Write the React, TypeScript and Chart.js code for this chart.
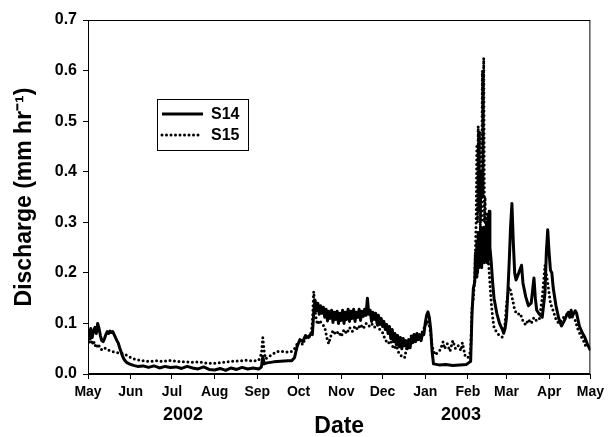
import React, { useEffect, useRef } from 'react';
import { Chart, registerables } from 'chart.js';

Chart.register(...registerables);

// ---- axis data ----
const monthTickDays = [0, 31, 61, 92, 123, 153, 184, 214, 245, 276, 304, 335, 365];
const monthTickLabels = ['May', 'Jun', 'Jul', 'Aug', 'Sep', 'Oct', 'Nov', 'Dec', 'Jan', 'Feb', 'Mar', 'Apr', 'May'];
const yearLabels = ['2002', '2003'];
const yearLabelDays = [69, 271];
const yMin = 0;
const yMax = 0.7;
const yStep = 0.1;

// ---- series S14 (days since 1 May 2002, discharge mm/hr) ----
const s14Days = [
  0, 1, 2, 3, 4, 5, 6, 7, 8, 9, 10, 11, 12, 13, 14, 15, 16, 17, 18, 19, 20, 21, 22, 23, 24, 25, 26, 27, 28, 30,
  33, 36, 40, 44, 48, 52, 56, 60, 64, 68, 72, 76, 80, 84, 88, 92, 96, 100, 104, 108, 112, 116, 120, 124, 126, 127, 128, 130, 135, 140,
  145, 148, 150, 152, 154, 156, 158, 160, 162, 163, 164, 165, 166, 167, 168, 169, 170, 171, 172, 173, 174, 175, 176, 177, 178, 179, 180, 181, 182, 183,
  184, 185, 186, 187, 188, 189, 190, 191, 192, 193, 194, 195, 196, 197, 198, 199, 200, 201, 202, 203, 204, 205, 206, 207, 208, 209, 210, 211, 212, 213,
  214, 215, 216, 217, 218, 219, 220, 221, 222, 223, 224, 225, 226, 227, 228, 229, 230, 231, 232, 233, 234, 235, 236, 237, 238, 239, 240, 241, 242, 243,
  244, 245, 246, 247, 248, 249, 250, 251, 255, 260, 265, 270, 275, 278, 279, 280, 281, 281.5, 282, 282.5, 283, 283.5, 284, 284.5, 285, 285.5, 286, 286.5, 287, 287.5,
  288, 288.5, 289, 289.5, 290, 290.5, 291, 291.5, 292, 293, 294, 295, 297, 299, 301, 302, 303, 304, 305, 306, 307, 308, 309, 310, 311, 313, 315, 316, 318, 320,
  322, 324, 325, 326, 328, 330, 332, 333, 334, 335, 336, 337, 338, 340, 342, 344, 346, 348, 349, 350, 351, 352, 354, 355, 357, 359, 361, 363, 365,
];
const s14Values = [
  0.085, 0.076, 0.090, 0.072, 0.085, 0.092, 0.080, 0.100, 0.090, 0.076, 0.066, 0.064, 0.070, 0.078, 0.084, 0.080, 0.085, 0.082, 0.084, 0.078, 0.072, 0.066, 0.061, 0.052, 0.044, 0.036, 0.030, 0.026, 0.023, 0.020,
  0.017, 0.015, 0.016, 0.013, 0.016, 0.012, 0.015, 0.013, 0.014, 0.011, 0.015, 0.012, 0.010, 0.014, 0.009, 0.008, 0.011, 0.007, 0.012, 0.009, 0.013, 0.010, 0.012, 0.010, 0.014, 0.035, 0.020, 0.022, 0.024, 0.025,
  0.026, 0.026, 0.032, 0.055, 0.068, 0.064, 0.076, 0.072, 0.080, 0.078, 0.122, 0.146, 0.125, 0.140, 0.118, 0.135, 0.120, 0.132, 0.112, 0.128, 0.105, 0.124, 0.110, 0.126, 0.102, 0.122, 0.108, 0.124, 0.100, 0.120,
  0.106, 0.126, 0.100, 0.122, 0.108, 0.128, 0.104, 0.124, 0.110, 0.128, 0.104, 0.122, 0.112, 0.128, 0.106, 0.124, 0.114, 0.128, 0.116, 0.150, 0.118, 0.126, 0.104, 0.122, 0.108, 0.120, 0.100, 0.116, 0.098, 0.110,
  0.094, 0.104, 0.088, 0.098, 0.080, 0.094, 0.070, 0.088, 0.064, 0.080, 0.058, 0.076, 0.054, 0.072, 0.050, 0.070, 0.056, 0.066, 0.050, 0.068, 0.052, 0.074, 0.062, 0.078, 0.064, 0.080, 0.068, 0.078, 0.066, 0.080,
  0.078, 0.100, 0.116, 0.123, 0.112, 0.088, 0.045, 0.020, 0.018, 0.019, 0.017, 0.018, 0.019, 0.025, 0.120, 0.170, 0.182, 0.240, 0.192, 0.260, 0.200, 0.280, 0.210, 0.270, 0.220, 0.290, 0.210, 0.260, 0.230, 0.290,
  0.220, 0.270, 0.230, 0.300, 0.220, 0.310, 0.240, 0.322, 0.250, 0.220, 0.180, 0.150, 0.120, 0.100, 0.088, 0.081, 0.090, 0.110, 0.160, 0.220, 0.290, 0.337, 0.260, 0.200, 0.186, 0.200, 0.215, 0.180, 0.153, 0.135,
  0.140, 0.190, 0.150, 0.126, 0.118, 0.112, 0.160, 0.240, 0.285, 0.240, 0.205, 0.200, 0.170, 0.135, 0.110, 0.095, 0.105, 0.118, 0.122, 0.112, 0.126, 0.115, 0.125, 0.120, 0.095, 0.082, 0.072, 0.058, 0.047,
];

// ---- series S15 ----
const s15Days = [
  0, 1, 2, 3, 4, 5, 6, 7, 8, 9, 10, 12, 14, 16, 18, 20, 22, 24, 26, 28, 30, 33, 36, 40, 45, 50, 55, 60, 65, 70,
  75, 80, 85, 90, 95, 100, 105, 110, 115, 120, 124, 126, 127, 128, 129, 131, 134, 137, 140, 143, 146, 148, 150, 152, 154, 156, 158, 160, 162, 163,
  164, 165, 166, 167, 168, 170, 172, 174, 175, 176, 178, 180, 182, 184, 186, 188, 190, 192, 194, 196, 198, 200, 202, 204, 206, 208, 210, 212, 214, 216,
  218, 220, 222, 224, 226, 228, 230, 232, 234, 236, 238, 240, 242, 244, 246, 247, 248, 249, 250, 252, 254, 256, 258, 259, 261, 263, 265, 267, 269, 271,
  272, 274, 276, 278, 279, 280, 281, 282, 282.5, 283, 283.5, 284, 284.5, 285, 285.5, 286, 286.5, 287, 287.5, 288, 288.5, 289, 290, 291, 292, 293, 294, 295, 297, 299,
  301, 302, 303, 304, 305, 306, 307, 308, 309, 310, 312, 314, 316, 318, 320, 322, 324, 326, 328, 330, 332, 334, 335, 336, 338, 340, 342, 344, 346, 348,
  350, 352, 354, 356, 358, 360, 362, 365,
];
const s15Values = [
  0.072, 0.062, 0.075, 0.058, 0.066, 0.055, 0.060, 0.052, 0.056, 0.050, 0.048, 0.052, 0.048, 0.046, 0.044, 0.043, 0.042, 0.041, 0.040, 0.037, 0.034, 0.030, 0.028, 0.026, 0.025, 0.026, 0.025, 0.027, 0.025, 0.024,
  0.023, 0.024, 0.022, 0.021, 0.022, 0.024, 0.025, 0.026, 0.027, 0.026, 0.027, 0.040, 0.072, 0.045, 0.030, 0.034, 0.039, 0.044, 0.045, 0.044, 0.043, 0.045, 0.050, 0.060, 0.066, 0.058, 0.072, 0.070, 0.080, 0.100,
  0.163, 0.125, 0.105, 0.098, 0.106, 0.100, 0.092, 0.066, 0.060, 0.072, 0.086, 0.078, 0.084, 0.074, 0.088, 0.080, 0.092, 0.084, 0.095, 0.088, 0.098, 0.090, 0.100, 0.094, 0.100, 0.092, 0.098, 0.088, 0.082, 0.068,
  0.060, 0.066, 0.050, 0.056, 0.040, 0.035, 0.032, 0.058, 0.072, 0.080, 0.074, 0.070, 0.078, 0.090, 0.100, 0.105, 0.095, 0.080, 0.055, 0.038, 0.042, 0.048, 0.064, 0.050, 0.060, 0.045, 0.066, 0.050, 0.056, 0.046,
  0.062, 0.036, 0.032, 0.045, 0.130, 0.150, 0.190, 0.300, 0.450, 0.300, 0.490, 0.320, 0.480, 0.280, 0.400, 0.300, 0.600, 0.350, 0.625, 0.300, 0.350, 0.250, 0.320, 0.220, 0.180, 0.140, 0.112, 0.092, 0.082,
  0.076, 0.073, 0.080, 0.100, 0.135, 0.158, 0.172, 0.165, 0.153, 0.140, 0.126, 0.118, 0.120, 0.105, 0.097, 0.108, 0.100, 0.112, 0.105, 0.110, 0.150, 0.215, 0.180, 0.160, 0.140, 0.125, 0.108, 0.100, 0.106, 0.114,
  0.118, 0.122, 0.112, 0.106, 0.088, 0.076, 0.066, 0.052,
];

const FONT = "'Liberation Sans', Arial, sans-serif";

const framePlugin = {
  id: 'frame',
  afterDraw(chart: any) {
    const { ctx, chartArea } = chart;
    ctx.save();
    ctx.strokeStyle = '#000';
    ctx.lineWidth = 1;
    ctx.strokeRect(chartArea.left + 0.5, chartArea.top + 0.5, chartArea.right - chartArea.left - 1, chartArea.bottom - chartArea.top - 1);
    ctx.restore();
  },
};

const yearPlugin = {
  id: 'years',
  afterDraw(chart: any) {
    const { ctx, chartArea } = chart;
    const xs = chart.scales.x;
    ctx.save();
    ctx.fillStyle = '#000';
    ctx.font = `bold 18px ${FONT}`;
    ctx.textAlign = 'center';
    ctx.textBaseline = 'middle';
    yearLabels.forEach((t, i) => {
      ctx.fillText(t, xs.getPixelForValue(yearLabelDays[i]), chartArea.bottom + 41);
    });
    ctx.restore();
  },
};

const legendPlugin = {
  id: 'insideLegend',
  afterDraw(chart: any) {
    const { ctx, chartArea } = chart;
    const left = chartArea.left + 69;
    const top = chartArea.top + 79;
    const w = 91;
    const h = 51;
    ctx.save();
    ctx.fillStyle = '#fff';
    ctx.fillRect(left, top, w, h);
    ctx.strokeStyle = '#000';
    ctx.lineWidth = 1;
    ctx.strokeRect(left + 0.5, top + 0.5, w, h);
    ctx.font = `bold 16px ${FONT}`;
    ctx.textAlign = 'left';
    ctx.textBaseline = 'middle';
    chart.data.datasets.forEach((ds: any, i: number) => {
      const y = top + 15 + i * 21;
      ctx.beginPath();
      ctx.strokeStyle = '#000';
      ctx.lineWidth = ds.borderWidth;
      ctx.lineCap = ds.borderCapStyle || 'butt';
      ctx.setLineDash(ds.borderDash || []);
      ctx.moveTo(left + 5, y);
      ctx.lineTo(left + (i === 0 ? 46 : 42), y);
      ctx.stroke();
      ctx.setLineDash([]);
      ctx.fillStyle = '#000';
      ctx.fillText(ds.label, left + 54, y + 1);
    });
    ctx.restore();
  },
};

export default function App() {
  const ref = useRef<HTMLCanvasElement | null>(null);

  useEffect(() => {
    document.body.style.margin = '0';
    const canvas = ref.current;
    if (!canvas) return;
    Chart.defaults.font.family = FONT;
    Chart.defaults.color = '#000';

    const chart = new Chart(canvas, {
      type: 'line',
      data: {
        datasets: [
          {
            label: 'S14',
            data: s14Days.map((d, i) => ({ x: d, y: s14Values[i] })),
            borderColor: '#000',
            borderWidth: 3,
            borderJoinStyle: 'round',
            pointRadius: 0,
            tension: 0,
            fill: false,
          },
          {
            label: 'S15',
            data: s15Days.map((d, i) => ({ x: d, y: s15Values[i] })),
            borderColor: '#000',
            borderWidth: 3,
            borderDash: [0, 4.5],
            borderCapStyle: 'round',
            pointRadius: 0,
            tension: 0,
            fill: false,
          },
        ],
      },
      options: {
        responsive: false,
        animation: false,
        devicePixelRatio: 1,
        layout: { padding: { top: 20, right: 14, left: 0, bottom: 0 } },
        plugins: {
          legend: { display: false },
          tooltip: { enabled: false },
        },
        scales: {
          x: {
            type: 'linear',
            min: 0,
            max: 365,
            afterFit(scale: any) {
              scale.height = 63;
            },
            afterBuildTicks(scale: any) {
              scale.ticks = monthTickDays.map((v) => ({ value: v }));
            },
            ticks: {
              autoSkip: false,
              maxRotation: 0,
              padding: 5,
              font: { size: 14, weight: 'bold' },
              callback: (_v: any, i: number) => monthTickLabels[i],
            },
            grid: {
              display: true,
              drawOnChartArea: false,
              drawTicks: true,
              tickLength: 5,
              color: '#000',
              tickColor: '#000',
            },
            border: { display: true, color: '#000', width: 1 },
            title: {
              display: true,
              text: 'Date',
              font: { size: 23, weight: 'bold', lineHeight: 0.9 },
              padding: { top: 0, bottom: 0 },
            },
          },
          y: {
            type: 'linear',
            min: yMin,
            max: yMax,
            afterFit(scale: any) {
              scale.width = 88;
            },
            ticks: {
              stepSize: yStep,
              padding: 6,
              font: { size: 16, weight: 'bold' },
              callback: (v: any) => Number(v).toFixed(1),
            },
            grid: {
              display: true,
              drawOnChartArea: false,
              drawTicks: true,
              tickLength: 5,
              color: '#000',
              tickColor: '#000',
            },
            border: { display: true, color: '#000', width: 1 },
            title: {
              display: true,
              text: 'Discharge (mm hr\u207B\u00B9)',
              font: { size: 23, weight: 'bold', lineHeight: 1 },
              padding: { top: 13, bottom: 0 },
            },
          },
        },
      },
      plugins: [framePlugin, yearPlugin, legendPlugin],
    } as any);

    return () => {
      chart.destroy();
    };
  }, []);

  return (
    <div style={{ position: 'relative', width: 609, height: 437, background: '#fff' }}>
      <canvas ref={ref} width={609} height={437} style={{ display: 'block', width: 609, height: 437 }} />
    </div>
  );
}
